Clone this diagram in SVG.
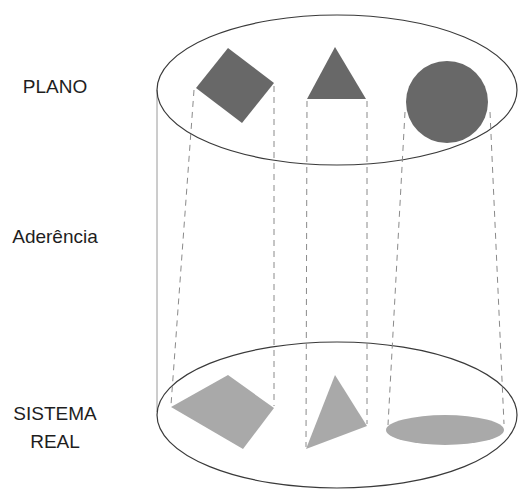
<svg xmlns="http://www.w3.org/2000/svg" width="518" height="489" viewBox="0 0 518 489">
<style>
.lbl{font-family:"Liberation Sans",Arial,sans-serif;font-size:19px;fill:#1e1e1e;text-anchor:middle}
.ell{fill:none;stroke:#3a3a3a;stroke-width:1.2}
.dash{stroke:#8a8a8a;stroke-width:1;stroke-dasharray:6,5;fill:none}
.top{fill:#686868}
.bot{fill:#a9a9a9}
</style>
<rect width="518" height="489" fill="#fff"/>
<g id="labels">
<text class="lbl" x="55" y="93">PLANO</text>
<text class="lbl" x="55" y="243">Aderência</text>
<text class="lbl" x="55" y="420">SISTEMA</text>
<text class="lbl" x="55" y="448">REAL</text>
</g>
<g id="cylinder">
<line x1="157" y1="90" x2="157" y2="412" stroke="#9a9a9a" stroke-width="1"/>
<ellipse class="ell" cx="337" cy="90" rx="180" ry="75"/>
<ellipse class="ell" cx="337" cy="415" rx="180" ry="73"/>
</g>
<g id="connectors">
<line class="dash" x1="194" y1="90" x2="171" y2="405"/>
<line class="dash" x1="274" y1="86" x2="274" y2="406"/>
<line class="dash" x1="307" y1="101" x2="306" y2="447"/>
<line class="dash" x1="367" y1="101" x2="367" y2="424"/>
<line class="dash" x1="405" y1="112" x2="388" y2="425"/>
<line class="dash" x1="490" y1="112" x2="504" y2="424"/>
</g>
<g id="plano-shapes">
<polygon id="square-top" class="top" points="228,48 274,83 242,123 196,88"/>
<polygon id="triangle-top" class="top" points="335,47 366,99 307,99"/>
<circle id="circle-top" class="top" cx="447" cy="102" r="41"/>
</g>
<g id="real-shapes">
<polygon id="square-bot" class="bot" points="228,375 274,408 243,449 171,407"/>
<polygon id="triangle-bot" class="bot" points="335,375 367,426 306,449"/>
<ellipse id="ellipse-bot" class="bot" cx="445" cy="430" rx="59" ry="15"/>
</g>
</svg>
